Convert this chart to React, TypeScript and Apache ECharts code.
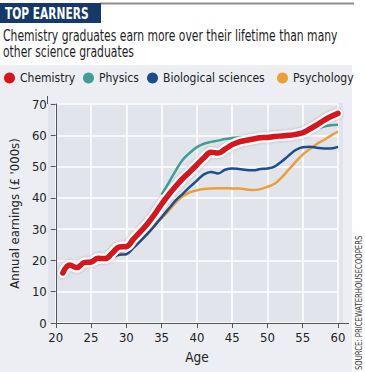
import React, { useEffect, useRef } from "react";
import * as echarts from "echarts";

const ages = [21,22,23,24,25,26,27,28,29,30,31,32,33,34,35,36,37,38,39,40,41,42,43,44,45,46,47,48,49,50,51,52,53,54,55,56,57,58,59,60];
const chemistry = [16,18.5,17.7,19.3,19.5,20.7,20.6,22.3,24.3,24.4,26.8,29.2,31.7,34.7,38,41,43.7,46.2,48.3,50.6,52.8,54.6,54.3,55.6,57,57.9,58.4,58.8,59.2,59.3,59.6,59.8,60,60.3,60.8,62,63.3,64.8,66,67];
const physics = [null,null,null,null,null,null,null,null,null,null,null,null,null,null,41,44.8,48.7,52.2,54.4,56.2,57.3,57.9,58.3,58.8,59.1,59.3,59.4,59.5,59.5,59.6,59.7,59.8,60,60.2,60.6,61.3,62.2,62.8,63.2,63.4];
const biological = [15.8,18,17.5,19,19.2,20.2,20.2,21,21.8,22,24,26.2,28.5,31,33.8,36.5,39.2,41.3,43.5,45.5,47.5,48.3,47.8,49,49.4,49.2,48.9,48.8,49.2,49.4,50,51.6,53.5,55.3,56.2,56.3,56,55.8,55.8,56.3];
const psychology = [15.8,18,17.5,19,19.2,20.2,20.3,21.8,22.8,23.2,25,27,29.3,31.8,33.5,35.8,38.5,40.5,41.8,42.4,42.8,43,43.1,43.1,43,43,42.7,42.5,42.8,43.5,44.5,46.5,49,51.5,53.8,55.6,57.2,58.5,59.9,61.2];
const yTicks = [0, 10, 20, 30, 40, 50, 60, 70];
const xTicks = [20, 25, 30, 35, 40, 45, 50, 55, 60];

const NARROW = "'DejaVu Sans Condensed', 'Liberation Sans Narrow', sans-serif";

const pairs = (vals: (number | null)[]) => ages.map((a, i) => [a, vals[i]]);

export default function App() {
  const ref = useRef<HTMLDivElement>(null);
  useEffect(() => {
    if (!ref.current) return;
    const chart = echarts.init(ref.current, undefined, { renderer: "svg" });
    const legendText = { fontFamily: NARROW, fontSize: 12, color: "#222" };
    const mkLegend = (name: string, left: number) => ({
      data: [name],
      left,
      top: 72,
      icon: "circle",
      itemWidth: 11,
      itemHeight: 11,
      itemGap: 0,
      itemStyle: { borderWidth: 0 },
      textStyle: legendText,
      padding: 0,
    });
    chart.setOption({
      animation: false,
      backgroundColor: "#ffffff",
      textStyle: { fontFamily: NARROW },
      grid: { left: 48, right: 27, top: 104, bottom: 49, show: false },
      graphic: [
        { type: "rect", z: -20, shape: { x: 0, y: 65, width: 352, height: 307 }, style: { fill: "#eceef3" } },
        { type: "rect", z: -19, shape: { x: 48, y: 103, width: 295, height: 220 }, style: { fill: "#e2e4ec" } },
        { type: "line", z: -18, shape: { x1: 100, y1: 3.5, x2: 354, y2: 3.5 }, style: { stroke: "#8c8c8c", lineWidth: 2 } },
        { type: "rect", shape: { x: 0, y: 3, width: 101, height: 20 }, style: { fill: "#15396b" } },
        { type: "text", x: 5, y: 13.5, scaleX: 0.74, style: { text: "TOP EARNERS", fill: "#ffffff", font: `bold 16px ${NARROW}`, verticalAlign: "middle" } },
        { type: "text", x: 3, y: 35, scaleX: 0.8, style: { text: "Chemistry graduates earn more over their lifetime than many", fill: "#1e1e1e", font: `15px ${NARROW}`, verticalAlign: "middle" } },
        { type: "text", x: 3, y: 51, scaleX: 0.8, style: { text: "other science graduates", fill: "#1e1e1e", font: `15px ${NARROW}`, verticalAlign: "middle" } },
        { type: "line", shape: { x1: 338, y1: 323.5, x2: 349, y2: 323.5 }, style: { stroke: "#555", lineWidth: 1 } },
        { type: "line", shape: { x1: 47.5, y1: 96, x2: 47.5, y2: 104 }, style: { stroke: "#555", lineWidth: 1 } },
        { type: "text", x: 359, y: 370, rotation: Math.PI / 2, scaleX: 0.9, style: { text: "SOURCE: PRICEWATERHOUSECOOPERS", fill: "#333", font: `8.5px ${NARROW}`, verticalAlign: "middle", align: "left" } },
      ],
      legend: [
        mkLegend("Chemistry", 4),
        mkLegend("Physics", 83),
        mkLegend("Biological sciences", 147),
        mkLegend("Psychology", 277),
      ],
      xAxis: {
        type: "value",
        min: 20,
        max: 60,
        interval: 5,
        name: "Age",
        nameLocation: "middle",
        nameGap: 27,
        nameTextStyle: { fontFamily: NARROW, fontSize: 13.5, color: "#222" },
        axisLine: { show: true, lineStyle: { color: "#555", width: 1 } },
        axisTick: { show: true, length: 5, lineStyle: { color: "#555" } },
        axisLabel: { margin: 8, fontFamily: NARROW, fontSize: 13, color: "#222", customValues: xTicks },
        splitLine: { show: true, lineStyle: { color: "#ffffff", width: 1.5 } },
      },
      yAxis: {
        type: "value",
        min: 0,
        max: 70,
        interval: 10,
        name: "Annual earnings (£ '000s)",
        nameLocation: "middle",
        nameGap: 29,
        nameTextStyle: { fontFamily: NARROW, fontSize: 13, color: "#222" },
        axisLine: { show: true, lineStyle: { color: "#555", width: 1 } },
        axisTick: { show: true, length: 5, lineStyle: { color: "#555" } },
        axisLabel: { margin: 9, fontFamily: NARROW, fontSize: 13, color: "#222", customValues: yTicks },
        splitLine: { show: true, lineStyle: { color: "#ffffff", width: 1.5 } },
      },
      series: [
        { name: "Psychology", type: "line", data: pairs(psychology), smooth: 0.4, showSymbol: false, lineStyle: { color: "#eb9f35", width: 2.5 }, itemStyle: { color: "#eb9f35" }, z: 3 },
        { name: "Biological sciences", type: "line", data: pairs(biological), smooth: 0.4, showSymbol: false, lineStyle: { color: "#1c4e8e", width: 2.5 }, itemStyle: { color: "#1c4e8e" }, z: 4 },
        { name: "Physics", type: "line", data: pairs(physics), smooth: 0.4, showSymbol: false, lineStyle: { color: "#3f9f94", width: 2.5 }, itemStyle: { color: "#3f9f94" }, z: 5 },
        { name: "ChemistryOutline", type: "line", data: pairs(chemistry), smooth: 0.4, showSymbol: false, silent: true, lineStyle: { color: "#ffffff", width: 10, shadowColor: "rgba(0,0,0,0.25)", shadowBlur: 3, cap: "round" }, itemStyle: { color: "#ffffff" }, z: 6 },
        { name: "Chemistry", type: "line", data: pairs(chemistry), smooth: 0.4, showSymbol: false, lineStyle: { color: "#d8141d", width: 5.5, cap: "round" }, itemStyle: { color: "#d8141d" }, z: 7 },
      ],
    });
    return () => chart.dispose();
  }, []);
  return <div ref={ref} style={{ width: 365, height: 372, position: "absolute", left: 0, top: 0 }} />;
}
